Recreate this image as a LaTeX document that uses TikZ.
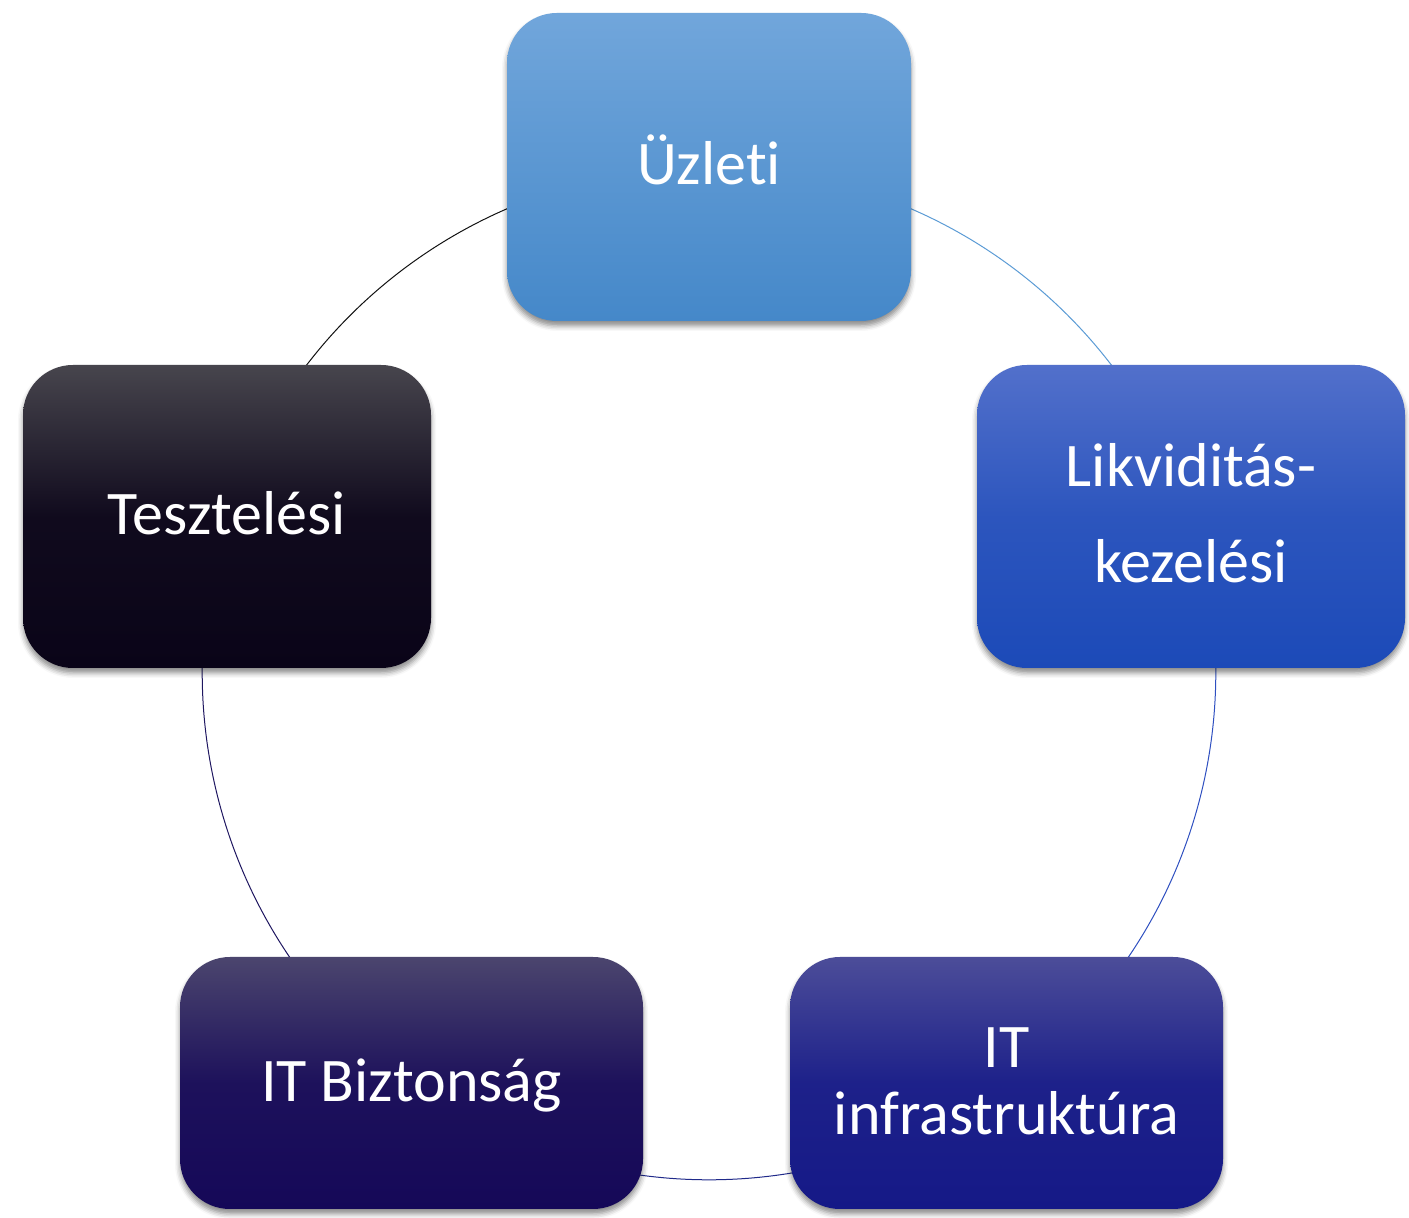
\documentclass[tikz,border=0pt]{standalone}
\usepackage{fontspec}
\setmainfont{Carlito}[Ligatures={NoCommon}]
\usetikzlibrary{backgrounds,shadows.blur}
\definecolor{uT}{HTML}{71A6DB}\definecolor{uB}{HTML}{4588C9}
\definecolor{lT}{HTML}{5270CB}\definecolor{lB}{HTML}{1C4AB8}
\definecolor{iT}{HTML}{4C4D99}\definecolor{iB}{HTML}{151987}
\definecolor{bT}{HTML}{4B456E}\definecolor{bB}{HTML}{150858}
\definecolor{tT}{HTML}{47454D}\definecolor{tB}{HTML}{0A0418}
\definecolor{aUL}{HTML}{5B9BD5}
\definecolor{aLI}{HTML}{2E4FC0}
\definecolor{aIB}{HTML}{202A8A}
\definecolor{aBT}{HTML}{1E1660}
\definecolor{aTU}{HTML}{111111}
\tikzset{
  box/.style={rounded corners=50pt, inner sep=0pt, text=white, align=center,
    font=\fontsize{62}{96}\selectfont,
    blur shadow={shadow xshift=0pt, shadow yshift=-5pt, shadow blur radius=5pt, shadow opacity=45}},
  ring/.style={line width=1pt},
}
\begin{document}
\begin{tikzpicture}[x=1pt,y=1pt]
\useasboundingbox (0,0) rectangle (1409,1218);
\node[box, minimum width=404pt, minimum height=308pt, top color=uT, bottom color=uB,
  text height=36pt, text depth=0pt] (u) at (709,1051) {Üzleti};
\node[box, minimum width=428pt, minimum height=303pt, top color=lT, bottom color=lB, middle color=lB!70!lT,
  text height=133pt, text depth=0pt] (l) at (1191,701.5) {Likviditás-\\kezelési};
\node[box, minimum width=433pt, minimum height=252pt, top color=iT, bottom color=iB, middle color=iB!85!iT,
  font=\fontsize{62}{67}\selectfont, text height=104pt, text depth=0pt] (i) at (1006.5,135) {IT\\infrastruktúra};
\node[box, minimum width=463pt, minimum height=252pt, top color=bT, bottom color=bB, middle color=bB!85!bT,
  text height=38pt, text depth=0pt] (b) at (411.5,135) {IT Biztonság};
\node[box, minimum width=408pt, minimum height=303pt, top color=tT, bottom color=tB, middle color=tB!90!tT,
  text height=37pt, text depth=0pt] (t) at (227,701.5) {Tesztelési};
\begin{scope}[on background layer]
\draw[ring, aUL] (u.center) .. controls +(0:219.6) and +(108:219.6) .. (l.center);
\draw[ring, aLI] (l.center) .. controls +(-72:219.6) and +(36:219.6) .. (i.center);
\draw[ring, aIB] (i.center) .. controls +(-144:219.6) and +(-36:219.6) .. (b.center);
\draw[ring, aBT] (b.center) .. controls +(144:219.6) and +(-108:219.6) .. (t.center);
\draw[ring, aTU] (t.center) .. controls +(72:219.6) and +(180:219.6) .. (u.center);
\end{scope}
\end{tikzpicture}
\end{document}
